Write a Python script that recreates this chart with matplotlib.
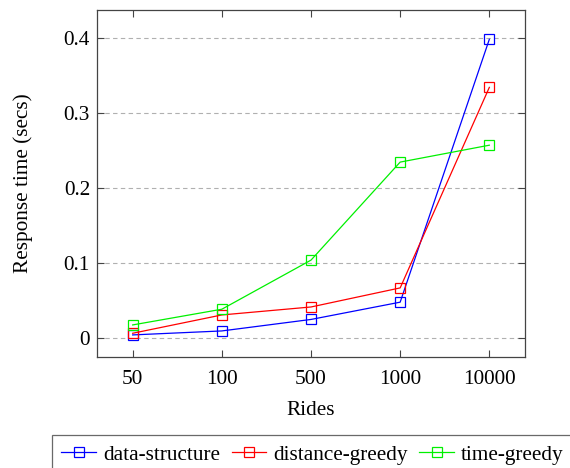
import matplotlib
matplotlib.use("Agg")
import matplotlib.pyplot as plt

categories = ["50", "100", "500", "1000", "10000"]
data_structure = [0.0044, 0.0097, 0.025, 0.048, 0.398]
distance_greedy = [0.0066, 0.031, 0.0416, 0.067, 0.334]
time_greedy = [0.0177, 0.0386, 0.104, 0.2345, 0.257]
yticks = [0, 0.1, 0.2, 0.3, 0.4]
ytick_labels = ["0", "0.1", "0.2", "0.3", "0.4"]

plt.rcParams['font.family'] = ['Liberation Serif', 'DejaVu Serif']
FS = 15.3

fig = plt.figure(figsize=(5.7, 4.68), dpi=100)
ax = fig.add_axes([97/570, 1-357/468, (525-97)/570, (357-10)/468])

x = list(range(len(categories)))
series = [("data-structure", data_structure, "#0000ff"),
          ("distance-greedy", distance_greedy, "#ff0000"),
          ("time-greedy", time_greedy, "#00f000")]
for name, vals, c in series:
    ax.plot(x, vals, color=c, lw=0.9, marker='s', ms=6.5, mfc='none',
            mec=c, mew=0.9, label=name)

ax.set_xlim(-0.4, 4.4)
ax.set_ylim(-0.025, 0.437)
ax.set_xticks(x)
ax.set_xticklabels(categories)
ax.set_yticks(yticks)
ax.set_yticklabels(ytick_labels)
ax.yaxis.grid(True, linestyle=(0, (4, 3)), color='#b0b0b0', lw=0.8)
ax.set_axisbelow(True)
ax.tick_params(direction='in', top=True, right=True, labelsize=FS,
               length=5, width=0.8, color='#444444')
ax.tick_params(axis='x', pad=9)
ax.tick_params(axis='y', pad=5)
for s in ax.spines.values():
    s.set_color('#444444')
    s.set_linewidth(0.9)
ax.set_xlabel("Rides", fontsize=FS, labelpad=9)
ax.set_ylabel("Response time (secs)", fontsize=FS, labelpad=22)

leg = fig.legend(loc='upper left', bbox_to_anchor=(51.7/570, 1-435.3/468),
                 ncol=3, fontsize=FS, frameon=True, fancybox=False,
                 handlelength=1.63, handletextpad=0.33, columnspacing=0.55,
                 borderpad=0.45, borderaxespad=0)
leg.get_frame().set_edgecolor('#444444')
leg.get_frame().set_linewidth(0.9)

fig.savefig("out.png", dpi=100)
